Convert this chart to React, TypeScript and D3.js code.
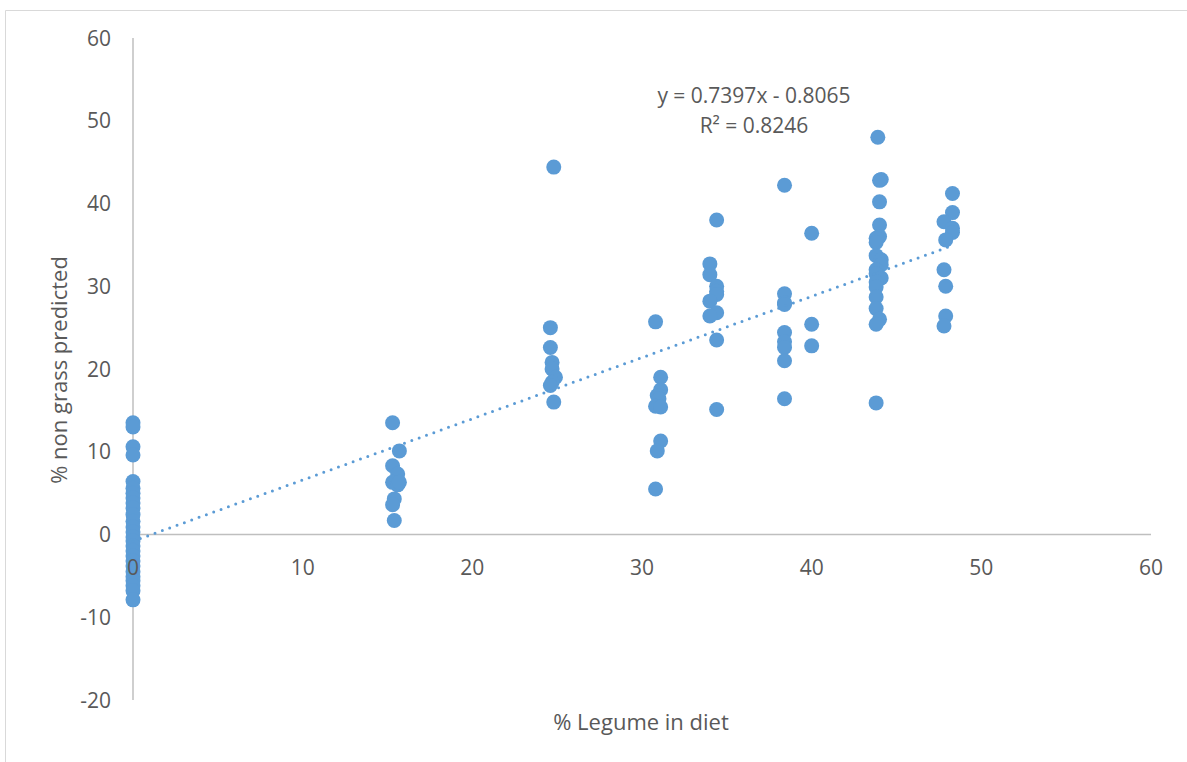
import React, { useEffect, useRef } from "react";
import * as d3 from "d3";

// % legume in diet (x) and % non grass predicted (y)
const legume = [
  0, 0, 0, 0, 0, 0, 0, 0, 0, 0, 0, 0, 0, 0, 0, 0, 0, 0, 0, 0, 0, 0, 0, 0, 0, 0, 0,
  15.3, 15.7, 15.3, 15.6, 15.3, 15.6, 15.7, 15.4, 15.3, 15.4,
  24.8, 24.6, 24.6, 24.7, 24.7, 24.9, 24.7, 24.6, 24.8,
  30.8, 31.1, 31.1, 30.9, 31.0, 30.8, 31.1, 31.1, 30.9, 30.8,
  34.4, 34.0, 34.0, 34.4, 34.4, 34.4, 34.0, 34.4, 34.0, 34.4, 34.4,
  38.4, 40.0, 38.4, 38.4, 38.4, 40.0, 38.4, 38.4, 40.0, 38.4, 38.4, 38.4,
  43.9, 44.1, 44.0, 44.0, 44.0, 44.0, 43.8, 43.8, 43.8, 44.1, 44.1, 43.8, 43.8,
  44.1, 43.8, 43.8, 43.8, 43.8, 44.0, 43.8, 43.8,
  48.3, 48.3, 47.8, 48.3, 48.3, 47.9, 47.8, 47.9, 47.9, 47.8,
];
const nonGrass = [
  13.5, 13.0, 10.6, 9.6, 6.4, 5.6, 5.0, 4.4, 3.8, 3.2, 2.4, 1.6, 0.9, 0.3, -0.3,
  -0.8, -1.4, -2.0, -2.6, -3.2, -3.8, -4.5, -5.1, -5.6, -6.2, -6.8, -7.9,
  13.5, 10.1, 8.3, 7.3, 6.3, 6.0, 6.3, 4.3, 3.6, 1.7,
  44.4, 25.0, 22.6, 20.8, 20.0, 19.0, 18.4, 18.0, 16.0,
  25.7, 19.0, 17.5, 16.8, 16.4, 15.5, 15.4, 11.3, 10.1, 5.5,
  38.0, 32.7, 31.4, 30.0, 29.4, 29.0, 28.2, 26.8, 26.4, 23.5, 15.1,
  42.2, 36.4, 29.1, 28.0, 27.8, 25.4, 24.4, 23.3, 22.8, 22.6, 21.0, 16.4,
  48.0, 42.9, 42.8, 40.2, 37.4, 36.0, 35.8, 35.3, 33.7, 33.2, 32.6, 32.0, 31.5,
  31.0, 30.5, 29.9, 28.7, 27.3, 26.0, 25.4, 15.9,
  41.2, 38.9, 37.8, 37.0, 36.5, 35.6, 32.0, 30.0, 26.4, 25.2,
];

const xTicks = [0, 10, 20, 30, 40, 50, 60];
const yTicks = [-20, -10, 0, 10, 20, 30, 40, 50, 60];
const slope = 0.7397;
const intercept = -0.8065;

const App = () => {
  const ref = useRef<SVGSVGElement>(null);

  useEffect(() => {
    document.body.style.margin = "0";
    const svg = d3.select(ref.current);
    svg.selectAll("*").remove();

    const font = "'Open Sans', sans-serif";
    const fs = "21px";
    const x = d3.scaleLinear().domain([0, 60]).range([133, 1151]);
    const y = d3.scaleLinear().domain([-20, 60]).range([700, 38]);

    // chart area border
    svg.append("path")
      .attr("d", "M5.5,770 V10.5 H1200")
      .attr("fill", "none")
      .attr("stroke", "#d9d9d9")
      .attr("stroke-width", 1);

    // axes lines
    svg.append("line")
      .attr("x1", x(0)).attr("x2", x(60))
      .attr("y1", y(0)).attr("y2", y(0))
      .attr("stroke", "#bfbfbf").attr("stroke-width", 1.5);
    svg.append("line")
      .attr("x1", x(0)).attr("x2", x(0))
      .attr("y1", y(60)).attr("y2", y(-20))
      .attr("stroke", "#bfbfbf").attr("stroke-width", 1.5);

    svg.selectAll(".yt")
      .data(yTicks)
      .enter()
      .append("text")
      .attr("x", 111)
      .attr("y", (d) => y(d) + 7.5)
      .attr("text-anchor", "end")
      .style("font-family", font)
      .style("font-size", fs)
      .attr("fill", "#595959")
      .text((d) => d);

    const pts = legume.map((v, i) => [v, nonGrass[i]]);
    svg.selectAll("circle")
      .data(pts)
      .enter()
      .append("circle")
      .attr("cx", (d) => x(d[0]))
      .attr("cy", (d) => y(d[1]))
      .attr("r", 7.5)
      .attr("fill", "#5b9bd5");

    // linear trendline, dotted
    const xMax = d3.max(legume) as number;
    svg.append("line")
      .attr("x1", x(0)).attr("y1", y(intercept))
      .attr("x2", x(xMax)).attr("y2", y(slope * xMax + intercept))
      .attr("stroke", "#5b9bd5")
      .attr("stroke-width", 3)
      .attr("stroke-linecap", "round")
      .attr("stroke-dasharray", "0 7.8");

    // x tick labels drawn over the points, as in the original
    svg.selectAll(".xt")
      .data(xTicks)
      .enter()
      .append("text")
      .attr("x", (d) => x(d))
      .attr("y", y(0) + 40)
      .attr("text-anchor", "middle")
      .style("font-family", font)
      .style("font-size", fs)
      .attr("fill", "#595959")
      .text((d) => d);

    svg.append("text")
      .attr("x", 754).attr("y", 103)
      .attr("text-anchor", "middle")
      .style("font-family", font).style("font-size", fs)
      .attr("fill", "#595959")
      .text(`y = ${slope}x - ${-intercept}`);
    svg.append("text")
      .attr("x", 754).attr("y", 133)
      .attr("text-anchor", "middle")
      .style("font-family", font).style("font-size", fs)
      .attr("fill", "#595959")
      .text("R² = 0.8246");

    svg.append("text")
      .attr("x", 641).attr("y", 730)
      .attr("text-anchor", "middle")
      .style("font-family", font).style("font-size", "22px")
      .attr("fill", "#595959")
      .text("% Legume in diet");
    svg.append("text")
      .attr("transform", "translate(67,370) rotate(-90)")
      .attr("text-anchor", "middle")
      .style("font-family", font).style("font-size", "22px")
      .attr("fill", "#595959")
      .text("% non grass predicted");
  }, []);

  return <svg ref={ref} width={1187} height={762} style={{ display: "block", background: "#fff" }} />;
};

export default App;
